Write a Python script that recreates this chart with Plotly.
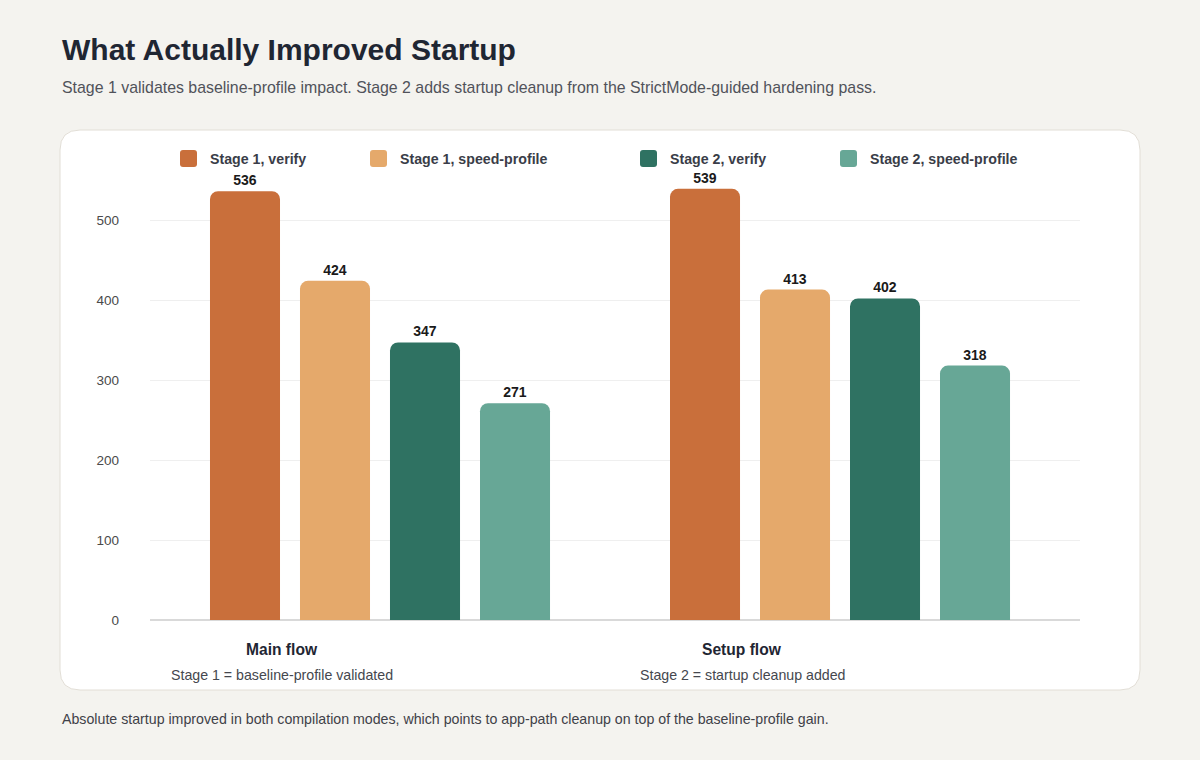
import plotly.graph_objects as go

# data
flows = ["Main flow", "Setup flow"]
flow_notes = ["Stage 1 = baseline-profile validated", "Stage 2 = startup cleanup added"]
series_names = ["Stage 1, verify", "Stage 1, speed-profile", "Stage 2, verify", "Stage 2, speed-profile"]
series_colors = ["#c96f3b", "#e5a96b", "#2f7262", "#67a796"]
stage1_verify = [536, 539]
stage1_speed = [424, 413]
stage2_verify = [347, 402]
stage2_speed = [271, 318]
y_ticks = [0, 100, 200, 300, 400, 500]

W, H = 1200, 760
L, R, T, B = 150, 120, 172, 140
PW, PH = W - L - R, H - T - B


def px(x):
    return (x - L) / PW


def py(y):
    return (H - B - y) / PH


def rounded_rect(x0, y0, x1, y1, r):
    # path in paper coords from pixel box
    X0, X1 = px(x0), px(x1)
    Y0, Y1 = py(y0), py(y1)
    rx, ry = r / PW, r / PH
    return (f"M {X0+rx},{Y0} L {X1-rx},{Y0} Q {X1},{Y0} {X1},{Y0-ry} "
            f"L {X1},{Y1+ry} Q {X1},{Y1} {X1-rx},{Y1} L {X0+rx},{Y1} "
            f"Q {X0},{Y1} {X0},{Y1+ry} L {X0},{Y0-ry} Q {X0},{Y0} {X0+rx},{Y0} Z")


font = "Liberation Sans, Arial, Helvetica, sans-serif"
fig = go.Figure()

for name, color, vals in zip(series_names, series_colors,
                             [stage1_verify, stage1_speed, stage2_verify, stage2_speed]):
    fig.add_trace(go.Bar(
        x=flows, y=vals, name=name,
        marker=dict(color=color, cornerradius=8, line=dict(width=0)),
        text=[str(v) for v in vals], textposition="outside", cliponaxis=False,
        textfont=dict(family=font, size=14, color="#1a1a1a", weight="bold"),
        showlegend=False, hoverinfo="skip",
    ))

shapes = [dict(type="path", xref="paper", yref="paper", layer="below",
               path=rounded_rect(60, 130, 1140, 690, 20),
               fillcolor="#ffffff", line=dict(color="#e2ded6", width=1))]

annotations = [
    dict(text="<b>What Actually Improved Startup</b>", x=px(60), y=py(50), xref="paper", yref="paper",
         xanchor="left", yanchor="middle", showarrow=False,
         font=dict(family=font, size=30, color="#1f2633")),
    dict(text="Stage 1 validates baseline-profile impact. Stage 2 adds startup cleanup from the StrictMode-guided hardening pass.",
         x=px(60), y=py(87), xref="paper", yref="paper", xanchor="left", yanchor="middle",
         showarrow=False, font=dict(family=font, size=15.9, color="#50525a")),
    dict(text="Absolute startup improved in both compilation modes, which points to app-path cleanup on top of the baseline-profile gain.",
         x=px(60), y=py(719), xref="paper", yref="paper", xanchor="left", yanchor="middle",
         showarrow=False, font=dict(family=font, size=14.2, color="#3f4148")),
]

# legend drawn by hand
legend_x = [180, 370, 640, 840]
for lx, name, color in zip(legend_x, series_names, series_colors):
    shapes.append(dict(type="path", xref="paper", yref="paper",
                       path=rounded_rect(lx, 150, lx + 17, 167, 3),
                       fillcolor=color, line=dict(width=0)))
    annotations.append(dict(text=f"<b>{name}</b>", x=px(lx + 28), y=py(159), xref="paper", yref="paper",
                            xanchor="left", yanchor="middle", showarrow=False,
                            font=dict(family=font, size=14.2, color="#3a3d48")))

# category labels, shifted left of group centres as in the reference
for i, (flow, note) in enumerate(zip(flows, flow_notes)):
    annotations.append(dict(text=f"<b>{flow}</b>", x=i - 0.212, y=py(649), xref="x", yref="paper",
                            xanchor="center", yanchor="middle", showarrow=False,
                            font=dict(family=font, size=15.6, color="#1f2633")))
    annotations.append(dict(text=note, x=i - 0.212, y=py(675), xref="x", yref="paper",
                            xanchor="center", yanchor="middle", showarrow=False,
                            font=dict(family=font, size=14.2, color="#45474e")))

fig.update_layout(
    width=W, height=H,
    margin=dict(l=L, r=R, t=T, b=B),
    paper_bgcolor="#f4f3ef", plot_bgcolor="rgba(0,0,0,0)",
    barmode="group", bargap=0.2174, bargroupgap=0.222,
    shapes=shapes, annotations=annotations,
    showlegend=False,
    font=dict(family=font),
)
fig.update_xaxes(range=[-0.5, 1.5217], showticklabels=False, showgrid=False, showline=False,
                 zeroline=False, ticks="")
fig.update_yaxes(range=[0, 560], tickvals=y_ticks, showgrid=True, gridcolor="#efefef", gridwidth=1,
                 zeroline=True, zerolinecolor="#d9d9d9", zerolinewidth=2, showline=False,
                 ticklabelstandoff=30, tickfont=dict(family=font, size=13.5, color="#4a4a4a"))

fig.write_html("out.html", config={"displayModeBar": False},
               post_script="document.body.style.margin='0';document.body.style.background='#f4f3ef';")
